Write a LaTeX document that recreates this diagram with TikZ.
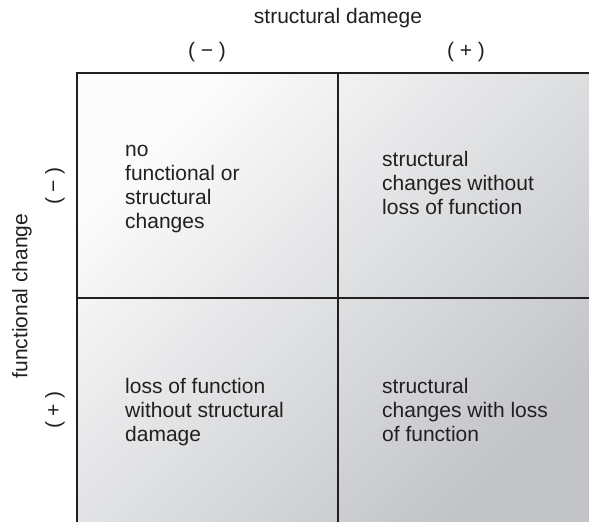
\documentclass[tikz,border=0pt]{standalone}
\usepackage{fontspec}
\setmainfont{Liberation Sans}
\usepackage{tikz}
\usetikzlibrary{positioning}
\definecolor{encre}{RGB}{35,31,32}
\definecolor{fondclair}{RGB}{252,252,252}
\definecolor{fondfonce}{RGB}{194,196,200}

\begin{document}
\begin{tikzpicture}[x=1pt, y=1pt,
    lbl/.style={font=\fontsize{21}{24}\selectfont, text=encre, inner sep=0pt},
    cellule/.style={lbl, align=left, anchor=west}]

    % Dimensions de la grille
    \def\largeur{589}
    \def\hauteur{522}
    \def\grilleG{77}
    \def\grilleH{449}
    \def\grilleX{338}
    \def\grilleY{224}

    \useasboundingbox (0,0) rectangle (\largeur,\hauteur);

    % =========================================================================
    % FOND DÉGRADÉ
    % =========================================================================
    \shade[top color=fondclair, bottom color=fondfonce, shading angle=45]
        (\grilleG, 0) rectangle (\largeur, \grilleH);

    % =========================================================================
    % GRILLE
    % =========================================================================
    \draw[encre, line width=1.2pt] (\grilleX, 0) -- (\grilleX, \grilleH);
    \draw[encre, line width=1.2pt] (\grilleG, \grilleY) -- (\largeur, \grilleY);
    \draw[encre, line width=2pt] (\grilleG, 0) -- (\grilleG, \grilleH) -- (\largeur, \grilleH);

    % =========================================================================
    % AXES
    % =========================================================================
    \node[lbl] (titre) at (\grilleX, 504) {structural damege};
    \node[lbl] (moinsHaut) at (207, 470) {( − )};
    \node[lbl] (plusHaut) at (466, 470) {( + )};

    \node[lbl, rotate=90] (titreGauche) at (22, 226) {functional change};
    \node[lbl, rotate=90] (moinsGauche) at (55, 336) {( − )};
    \node[lbl, rotate=90] (plusGauche) at (55, 112) {( + )};

    % =========================================================================
    % CELLULES
    % =========================================================================
    \node[cellule] (aucun) at (125, 333) {no\\functional or\\structural\\changes};
    \node[cellule] (structurel) at (382, 339) {structural\\changes without\\loss of function};
    \node[cellule] (fonctionnel) at (125, 110) {loss of function\\without structural\\damage};
    \node[cellule] (lesDeux) at (382, 112) {structural\\changes with loss\\of function};
\end{tikzpicture}
\end{document}
